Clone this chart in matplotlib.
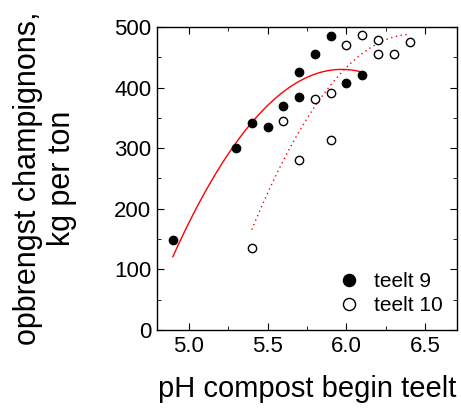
import numpy as np
import matplotlib.pyplot as plt
from matplotlib.ticker import MultipleLocator

plt.rcParams['font.family'] = ['Liberation Sans', 'DejaVu Sans']

# teelt 9 (filled)
ph9 = [4.90, 5.30, 5.40, 5.50, 5.60, 5.70, 5.70, 5.80, 5.90, 6.00, 6.10]
yld9 = [148, 301, 342, 335, 369, 385, 425, 456, 485, 407, 421]
# teelt 10 (open)
ph10 = [5.40, 5.60, 5.70, 5.80, 5.90, 5.90, 6.00, 6.10, 6.20, 6.20, 6.30, 6.40]
yld10 = [136, 345, 281, 381, 391, 314, 470, 486, 479, 455, 456, 476]

# quadratic trend lines: (vertex x, vertex y, curvature, x range)
fit9 = (5.97, 430, -270, 4.90, 6.10)
fit10 = (6.42, 488, -310, 5.40, 6.40)

fig = plt.figure(figsize=(4.61, 4.12), dpi=100)
ax = fig.add_axes([0.3406, 0.199, 0.6507, 0.7355])

for (xv, yv, a, x0, x1), ls in [(fit9, '-'), (fit10, (0, (1, 2.5)))]:
    xs = np.linspace(x0, x1, 100)
    ax.plot(xs, yv + a * (xs - xv) ** 2, color='red', lw=1, ls=ls)

ax.plot(ph9, yld9, 'o', color='black', ms=6, label='teelt 9')
ax.plot(ph10, yld10, 'o', mfc='white', mec='black', mew=1, ms=6, label='teelt 10')

ax.set_xlim(4.8, 6.7)
ax.set_ylim(0, 500)
ax.xaxis.set_major_locator(MultipleLocator(0.5))
ax.xaxis.set_minor_locator(MultipleLocator(0.25))
ax.yaxis.set_major_locator(MultipleLocator(100))
ax.yaxis.set_minor_locator(MultipleLocator(50))
ax.set_xticks([5.0, 5.5, 6.0, 6.5])
ax.set_xticklabels(['5.0', '5.5', '6.0', '6.5'])
ax.tick_params(which='both', direction='in', top=True, right=True, labelsize=16, pad=4)
ax.tick_params(which='major', length=5)
ax.tick_params(which='minor', length=3)
for s in ax.spines.values():
    s.set_linewidth(1)

ax.set_xlabel('pH compost begin teelt', fontsize=21, labelpad=13)
ax.set_ylabel('opbrengst champignons,\nkg per ton', fontsize=22, labelpad=27,
              linespacing=1.15)

ax.legend(loc='lower right', frameon=False, fontsize=15, handletextpad=0.6,
          borderaxespad=0.3, labelspacing=0.25, markerscale=1.45, handlelength=1.2)

fig.savefig('out.png', dpi=100)
